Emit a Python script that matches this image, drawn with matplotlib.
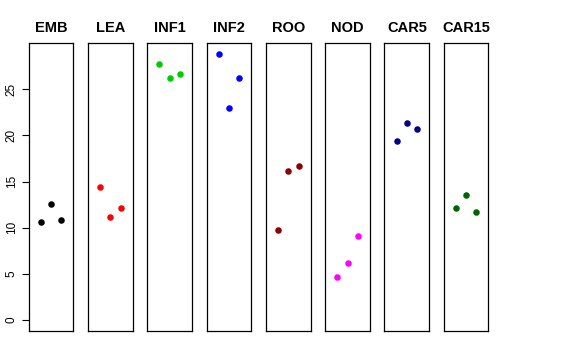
import matplotlib
matplotlib.use('Agg')
import matplotlib.pyplot as plt

plt.rcParams['font.family'] = ['Liberation Sans', 'DejaVu Sans']

# ────── data ──────
tissues = ['EMB', 'LEA', 'INF1', 'INF2', 'ROO', 'NOD', 'CAR5', 'CAR15']
colors = ['black', 'red', '#00CD00', 'blue', '#8B0000', 'magenta', '#00008B', '#006400']
reps = [1, 2, 3]
emb = [10.66, 12.57, 10.88]
lea = [14.44, 11.17, 12.18]
inf1 = [27.78, 26.23, 26.70]
inf2 = [28.82, 22.95, 26.23]
roo = [9.80, 16.14, 16.68]
nod = [4.71, 6.23, 9.11]
car5 = [19.35, 21.30, 20.68]
car15 = [12.18, 13.58, 11.74]
values = [emb, lea, inf1, inf2, roo, nod, car5, car15]
yticks = [0, 5, 10, 15, 20, 25]

# ────── layout (R style: 4% axis extension) ──────
W, H = 576, 360
fig = plt.figure(figsize=(W / 100, H / 100), dpi=100)

ymax = max(max(v) for v in values)
ypad = 0.04 * ymax
left0, pitch, width = 28.7, 59.3, 44.7
bottom_px, top_px = 330.7, 43.3

for i, (name, col, vals) in enumerate(zip(tissues, colors, values)):
    x0 = left0 + i * pitch
    ax = fig.add_axes([x0 / W, 1 - bottom_px / H, width / W, (bottom_px - top_px) / H])
    ax.plot(reps, vals, 'o', color=col, markersize=4.7, markeredgewidth=0)
    ax.set_xlim(0 - 0.16, 4 + 0.16)
    ax.set_ylim(0 - ypad, ymax + ypad)
    ax.set_xticks([])
    for s in ax.spines.values():
        s.set_linewidth(0.9)
    ax.set_title(name, fontsize=10.5, fontweight='bold', pad=8)
    if i == 0:
        ax.set_yticks(yticks)
        ax.set_yticklabels([str(t) for t in yticks], rotation=90, va='center', fontsize=8.5)
        ax.tick_params(axis='y', length=5, width=0.8, pad=3)
    else:
        ax.set_yticks([])

fig.savefig('out.png', dpi=100)
